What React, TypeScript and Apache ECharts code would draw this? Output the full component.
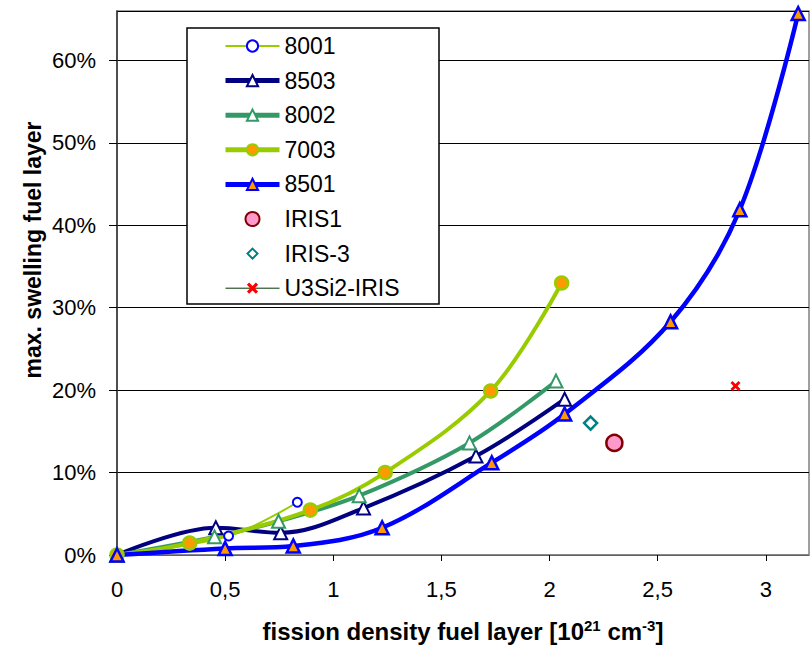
import React, { useEffect, useRef } from "react";
import * as echarts from "echarts";

// ---- data ----
const x8001 = [0, 0.516, 0.834];
const y8001 = [0, 0.023, 0.064];
const x8503 = [0, 0.457, 0.757, 1.14, 1.66, 2.07];
const y8503 = [0, 0.033, 0.027, 0.057, 0.12, 0.189];
const x8002 = [0, 0.451, 0.747, 1.12, 1.63, 2.03];
const y8002 = [0, 0.022, 0.041, 0.072, 0.136, 0.211];
const x7003 = [0, 0.336, 0.894, 1.24, 1.728, 2.056];
const y7003 = [0, 0.0145, 0.0545, 0.1, 0.199, 0.33];
const x8501 = [0, 0.5, 0.815, 1.226, 1.733, 2.07, 2.56, 2.88, 3.15];
const y8501 = [0, 0.008, 0.011, 0.033, 0.112, 0.171, 0.283, 0.419, 0.657];
const xIris1 = [2.3];
const yIris1 = [0.136];
const xIris3 = [2.19];
const yIris3 = [0.16];
const xU3Si2 = [2.86];
const yU3Si2 = [0.205];

const seriesNames = ["8001", "8503", "8002", "7003", "8501", "IRIS1", "IRIS-3", "U3Si2-IRIS"];
const legendLineWidths = [2, 5, 5, 5, 5, 0, 0, 1];

const pairs = (xs: number[], ys: number[]) => xs.map((x, i) => [x, ys[i]]);

const FONT = "Liberation Sans, Arial, sans-serif";
const X_SYMBOL =
  "path://M0 2 L2 0 L5 3 L8 0 L10 2 L7 5 L10 8 L8 10 L5 7 L2 10 L0 8 L3 5 Z";
const LEGEND_DIAMOND = "path://M0 0 M54 14 M27 2 L32 7 L27 12 L22 7 Z";

export default function App() {
  const ref = useRef<HTMLDivElement>(null);
  useEffect(() => {
    if (!ref.current) return;
    const chart = echarts.init(ref.current, undefined, { renderer: "svg" });
    const SMOOTH = 0.35;
    chart.setOption({
      animation: false,
      backgroundColor: "#ffffff",
      textStyle: { fontFamily: FONT },
      grid: {
        left: 117,
        right: 2,
        top: 11,
        bottom: 91,
        show: true,
        borderColor: "#808080",
        borderWidth: 1.5,
        backgroundColor: "transparent",
      },
      xAxis: {
        type: "value",
        min: 0,
        max: 3.2,
        interval: 0.5,
        axisLine: { show: true, lineStyle: { color: "#808080", width: 1.5 } },
        axisTick: { show: true, inside: false, length: 6, lineStyle: { color: "#000" } },
        axisLabel: {
          showMaxLabel: false,
          margin: 23,
          color: "#000",
          fontSize: 22,
          fontFamily: FONT,
          formatter: (v: number) => String(v).replace(".", ","),
        },
        splitLine: { show: false },
      },
      yAxis: {
        type: "value",
        min: 0,
        max: 0.66,
        interval: 0.1,
        axisLine: { show: true, lineStyle: { color: "#333", width: 1.5 } },
        axisTick: { show: true, inside: false, length: 8, lineStyle: { color: "#000" } },
        axisLabel: {
          showMaxLabel: false,
          margin: 21,
          color: "#000",
          fontSize: 22,
          fontFamily: FONT,
          formatter: (v: number) => Math.round(v * 100) + "%",
        },
        splitLine: { show: true, lineStyle: { color: "#000", width: 1 } },
      },
      legend: {
        show: true,
        orient: "vertical",
        left: 223,
        top: 34,
        padding: 0,
        itemWidth: 54,
        itemHeight: 14,
        itemGap: 10.6,
        selectedMode: false,
        symbolKeepAspect: true,
        z: 10,
        data: seriesNames.map((n, i) => {
          if (n === "IRIS-3") return { name: n, icon: LEGEND_DIAMOND };
          return legendLineWidths[i] > 0
            ? { name: n, lineStyle: { width: legendLineWidths[i] } }
            : { name: n };
        }),
        textStyle: { fontSize: 23, lineHeight: 24, color: "#000", fontFamily: FONT },
      },
      graphic: [
        {
          type: "rect",
          z: 5,
          shape: { x: 187, y: 28, width: 252, height: 276 },
          style: { fill: "#fff", stroke: "#000", lineWidth: 1.5 },
        },
        {
          type: "text",
          x: 33,
          y: 250,
          rotation: Math.PI / 2,
          style: {
            text: "max. swelling fuel layer",
            font: `bold 23px ${FONT}`,
            fill: "#000",
            align: "center",
            verticalAlign: "middle",
          },
        },
        {
          type: "text",
          x: 463,
          y: 631,
          style: {
            text: "{a|fission density fuel layer [10}{s|21}{a| cm}{s|-3}{a|]}",
            align: "center",
            verticalAlign: "middle",
            fill: "#000",
            rich: {
              a: { fontSize: 24, fontWeight: "bold", fontFamily: FONT, lineHeight: 26 },
              s: {
                fontSize: 15,
                fontWeight: "bold",
                fontFamily: FONT,
                verticalAlign: "top",
                lineHeight: 14,
              },
            },
          },
        },
      ],
      series: [
        {
          name: "8001",
          type: "line",
          smooth: SMOOTH,
          data: pairs(x8001, y8001),
          lineStyle: { color: "#99cc00", width: 2 },
          symbol: "circle",
          symbolSize: 9,
          itemStyle: { color: "#fff", borderColor: "#0000ff", borderWidth: 2 },
          z: 3,
        },
        {
          name: "8503",
          type: "line",
          smooth: SMOOTH,
          data: pairs(x8503, y8503),
          lineStyle: { color: "#000080", width: 4 },
          symbol: "triangle",
          symbolSize: 13,
          itemStyle: { color: "#fff", borderColor: "#000080", borderWidth: 2 },
          z: 3,
        },
        {
          name: "8002",
          type: "line",
          smooth: SMOOTH,
          data: pairs(x8002, y8002),
          lineStyle: { color: "#339966", width: 4 },
          symbol: "triangle",
          symbolSize: 13,
          itemStyle: { color: "#fff", borderColor: "#339966", borderWidth: 2 },
          z: 3,
        },
        {
          name: "7003",
          type: "line",
          smooth: SMOOTH,
          data: pairs(x7003, y7003),
          lineStyle: { color: "#99cc00", width: 4 },
          symbol: "circle",
          symbolSize: 13,
          itemStyle: { color: "#ff9900", borderColor: "#99cc00", borderWidth: 2.5 },
          z: 3,
        },
        {
          name: "8501",
          type: "line",
          smooth: SMOOTH,
          data: pairs(x8501, y8501),
          lineStyle: { color: "#0000ff", width: 4.5 },
          symbol: "triangle",
          symbolSize: 13,
          itemStyle: { color: "#ff9900", borderColor: "#0000ff", borderWidth: 2.5 },
          z: 3,
        },
        {
          name: "IRIS1",
          type: "scatter",
          data: pairs(xIris1, yIris1),
          symbol: "circle",
          symbolSize: 16,
          itemStyle: { color: "#ff99cc", borderColor: "#800000", borderWidth: 2.5, opacity: 1 },
          z: 3,
        },
        {
          name: "IRIS-3",
          type: "scatter",
          data: pairs(xIris3, yIris3),
          symbol: "diamond",
          symbolSize: 13,
          symbolKeepAspect: true,
          itemStyle: { color: "#fff", borderColor: "#008080", borderWidth: 2.5, opacity: 1 },
          z: 3,
        },
        {
          name: "U3Si2-IRIS",
          type: "line",
          data: pairs(xU3Si2, yU3Si2),
          lineStyle: { color: "#003300", width: 1 },
          symbol: X_SYMBOL,
          symbolSize: 10,
          itemStyle: { color: "#ff0000", borderColor: "#ff0000", borderWidth: 0 },
          z: 3,
        },
      ],
    });
    return () => chart.dispose();
  }, []);
  return (
    <div
      ref={ref}
      style={{ position: "absolute", left: 0, top: 0, width: 811, height: 646 }}
    />
  );
}
